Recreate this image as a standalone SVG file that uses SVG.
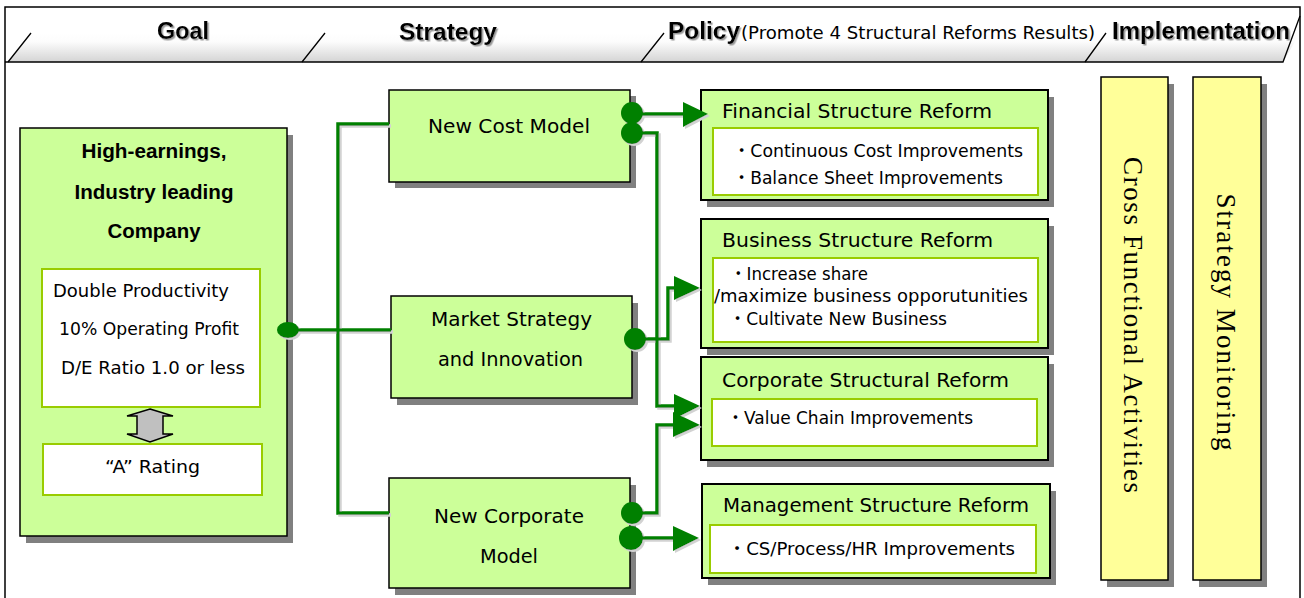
<svg xmlns="http://www.w3.org/2000/svg" width="1304" height="598" viewBox="0 0 1304 598">
  <defs>
    <linearGradient id="bandFill" x1="0" y1="0" x2="0" y2="1">
      <stop offset="0" stop-color="#ffffff"/>
      <stop offset="0.3" stop-color="#fcfcfc"/>
      <stop offset="1" stop-color="#d4d4d4"/>
    </linearGradient>
    <filter id="wireShadow" x="-10%" y="-10%" width="120%" height="120%">
      <feDropShadow dx="2" dy="2" stdDeviation="0.5" flood-color="#d2d2d2" flood-opacity="1"/>
    </filter>
    <filter id="textShadow" x="-5%" y="-10%" width="110%" height="130%">
      <feDropShadow dx="1.5" dy="1.5" stdDeviation="0" flood-color="#9a9a9a" flood-opacity="1"/>
    </filter>
    <style>
      .frame{fill:none;stroke:#000;stroke-width:1.5}
      .band-line{fill:none;stroke:#000;stroke-width:1.3}
      .head{font-family:"Liberation Sans",Arial,sans-serif;font-weight:bold;font-size:24px;fill:#000}
      .sub{font-family:"DejaVu Sans",sans-serif;font-size:17px;fill:#000}
      .shadow{fill:#808080}
      .green{fill:#ccff99;stroke:#000;stroke-width:1.5}
      .green2{fill:#ccff99;stroke:#000;stroke-width:2}
      .yellow{fill:#ffff99;stroke:#000;stroke-width:1.5}
      .inner{fill:#ffffff;stroke:#99cc00;stroke-width:2}
      .bold{font-family:"Liberation Sans",Arial,sans-serif;font-weight:bold;font-size:20px;fill:#000}
      .t{font-family:"DejaVu Sans","Noto Sans CJK JP",sans-serif;fill:#000}
      .s18{font-size:18px}
      .s19{font-size:19.5px}
      .s20{font-size:20px}
      .serif{font-family:"Liberation Serif","Times New Roman",serif;font-size:27px;fill:#000}
      .wire{fill:none;stroke:#008000;stroke-width:3.5}
      .dot{fill:#008000}
      .arrow{fill:#008000}
      .rate-arrow{fill:#c0c0c0;stroke:#000;stroke-width:1.5;stroke-linejoin:miter}
    </style>
  </defs>

  <rect width="1304" height="598" fill="#ffffff"/>

  <!-- outer frame and column header band -->
  <g id="header">
    <polygon points="8,62 31,33 1300,33 1283,62" fill="url(#bandFill)"/>
    <path class="frame" d="M5,598 V7 H1300 V598"/>
    <path class="band-line" d="M5,62 H1283 L1300,16"/>
    <path class="band-line" d="M8,62 L31,33 M302,62 L325,33 M641,62 L664,33 M1085,62 L1106,33"/>
    <g filter="url(#textShadow)">
      <text class="head" x="157" y="39" textLength="52" lengthAdjust="spacingAndGlyphs">Goal</text>
      <text class="head" x="399" y="40" textLength="98" lengthAdjust="spacingAndGlyphs">Strategy</text>
      <text class="head" x="668" y="39" textLength="72" lengthAdjust="spacingAndGlyphs">Policy</text>
      <text class="head" x="1112" y="39" textLength="178" lengthAdjust="spacingAndGlyphs">Implementation</text>
    </g>
    <text class="sub" x="741" y="39" textLength="354" lengthAdjust="spacingAndGlyphs">(Promote 4 Structural Reforms Results)</text>
  </g>

  <!-- goal -->
  <g id="goal">
    <rect class="shadow" x="26" y="135" width="267" height="408"/>
    <rect class="green" x="20" y="128" width="267" height="408"/>
    <text class="bold" x="154" y="158" text-anchor="middle" textLength="145" lengthAdjust="spacingAndGlyphs">High-earnings,</text>
    <text class="bold" x="154" y="199" text-anchor="middle" textLength="159" lengthAdjust="spacingAndGlyphs">Industry leading</text>
    <text class="bold" x="154" y="238" text-anchor="middle" textLength="93" lengthAdjust="spacingAndGlyphs">Company</text>
    <rect class="inner" x="42" y="269" width="218" height="138"/>
    <text class="t s18" x="53" y="297" textLength="176" lengthAdjust="spacingAndGlyphs">Double Productivity</text>
    <text class="t s18" x="59" y="335" textLength="180" lengthAdjust="spacingAndGlyphs">10% Operating Profit</text>
    <text class="t s18" x="61" y="374" textLength="184" lengthAdjust="spacingAndGlyphs">D/E Ratio 1.0 or less</text>
    <polygon class="rate-arrow" points="150,409 173,416 163,416 163,434 173,434 150,442 127,434 137,434 137,416 127,416"/>
    <rect class="inner" x="43" y="444" width="219" height="51"/>
    <text class="t s18" x="105" y="473" textLength="95" lengthAdjust="spacingAndGlyphs">“A” Rating</text>
  </g>

  <!-- strategies -->
  <g id="strategy-cost">
    <rect class="shadow" x="395" y="96" width="241" height="92"/>
    <rect class="green" x="389" y="90" width="241" height="92"/>
    <text class="t s20" x="428" y="133" textLength="162" lengthAdjust="spacingAndGlyphs">New Cost Model</text>
  </g>
  <g id="strategy-market">
    <rect class="shadow" x="397" y="303" width="241" height="102"/>
    <rect class="green" x="391" y="296" width="241" height="102"/>
    <text class="t s20" x="431" y="326" textLength="161" lengthAdjust="spacingAndGlyphs">Market Strategy</text>
    <text class="t s20" x="438" y="366" textLength="145" lengthAdjust="spacingAndGlyphs">and Innovation</text>
  </g>
  <g id="strategy-corporate">
    <rect class="shadow" x="395" y="485" width="241" height="110"/>
    <rect class="green" x="389" y="478" width="241" height="110"/>
    <text class="t s20" x="434" y="523" textLength="150" lengthAdjust="spacingAndGlyphs">New Corporate</text>
    <text class="t s20" x="480" y="563" textLength="58" lengthAdjust="spacingAndGlyphs">Model</text>
  </g>

  <!-- policies -->
  <g id="policy-financial">
    <rect class="shadow" x="707" y="97" width="347" height="110"/>
    <rect class="green2" x="701" y="90" width="347" height="110"/>
    <text class="t s19" x="722" y="118" textLength="270" lengthAdjust="spacingAndGlyphs">Financial Structure Reform</text>
    <rect class="inner" x="713" y="128" width="325" height="67"/>
    <text class="t s18" x="733" y="157" textLength="290" lengthAdjust="spacingAndGlyphs">・Continuous Cost Improvements</text>
    <text class="t s18" x="733" y="184" textLength="270" lengthAdjust="spacingAndGlyphs">・Balance Sheet Improvements</text>
  </g>
  <g id="policy-business">
    <rect class="shadow" x="707" y="226" width="347" height="129"/>
    <rect class="green2" x="701" y="219" width="347" height="129"/>
    <text class="t s19" x="722" y="247" textLength="271" lengthAdjust="spacingAndGlyphs">Business Structure Reform</text>
    <rect class="inner" x="713" y="258" width="325" height="84"/>
    <text class="t s18" x="730" y="280" textLength="138" lengthAdjust="spacingAndGlyphs">・Increase share</text>
    <text class="t s18" x="714" y="302" textLength="314" lengthAdjust="spacingAndGlyphs">/maximize business opporutunities</text>
    <text class="t s18" x="729" y="325" textLength="218" lengthAdjust="spacingAndGlyphs">・Cultivate New Business</text>
  </g>
  <g id="policy-corporate">
    <rect class="shadow" x="707" y="364" width="347" height="103"/>
    <rect class="green2" x="701" y="357" width="347" height="103"/>
    <text class="t s19" x="722" y="387" textLength="287" lengthAdjust="spacingAndGlyphs">Corporate Structural Reform</text>
    <rect class="inner" x="712" y="399" width="325" height="47"/>
    <text class="t s18" x="727" y="424" textLength="246" lengthAdjust="spacingAndGlyphs">・Value Chain Improvements</text>
  </g>
  <g id="policy-management">
    <rect class="shadow" x="708" y="491" width="348" height="94"/>
    <rect class="green2" x="702" y="484" width="348" height="94"/>
    <text class="t s19" x="723" y="512" textLength="306" lengthAdjust="spacingAndGlyphs">Management Structure Reform</text>
    <rect class="inner" x="710" y="525" width="326" height="48"/>
    <text class="t s18" x="728" y="555" textLength="287" lengthAdjust="spacingAndGlyphs">・CS/Process/HR Improvements</text>
  </g>

  <!-- implementation -->
  <g id="impl-cross">
    <rect class="shadow" x="1107" y="84" width="67" height="503"/>
    <rect class="yellow" x="1101" y="77" width="67" height="503"/>
    <text class="serif" transform="translate(1133,325) rotate(90)" text-anchor="middle" dominant-baseline="central" textLength="336" lengthAdjust="spacing">Cross Functional Activities</text>
  </g>
  <g id="impl-monitoring">
    <rect class="shadow" x="1199" y="84" width="68" height="503"/>
    <rect class="yellow" x="1193" y="77" width="68" height="503"/>
    <text class="serif" transform="translate(1226,322) rotate(90)" text-anchor="middle" dominant-baseline="central" textLength="257" lengthAdjust="spacing">Strategy Monitoring</text>
  </g>

  <!-- connectors -->
  <g id="connectors" filter="url(#wireShadow)">
    <path class="wire" d="M288,330 H391"/>
    <path class="wire" d="M389,124 H338 V513 H389"/>
    <ellipse class="dot" cx="288" cy="330" rx="11" ry="8"/>

    <path class="wire" d="M632,114 H684"/>
    <polygon class="arrow" points="683,102 708,114 683,127"/>

    <path class="wire" d="M632,133 H657 V406 H675"/>
    <polygon class="arrow" points="674,394 700,406 674,419"/>

    <path class="wire" d="M635,339 H668 V288 H675"/>
    <polygon class="arrow" points="674,276 700,288 674,300"/>

    <path class="wire" d="M632,513 H657 V425 H674"/>
    <polygon class="arrow" points="673,412 700,425 673,437"/>

    <path class="wire" d="M631,538 H674"/>
    <polygon class="arrow" points="673,526 699,538 673,551"/>

    <circle class="dot" cx="632" cy="113" r="11"/>
    <circle class="dot" cx="632" cy="133" r="11"/>
    <circle class="dot" cx="635" cy="339" r="11"/>
    <circle class="dot" cx="632" cy="513" r="11"/>
    <circle class="dot" cx="631" cy="538" r="12"/>
  </g>
</svg>
